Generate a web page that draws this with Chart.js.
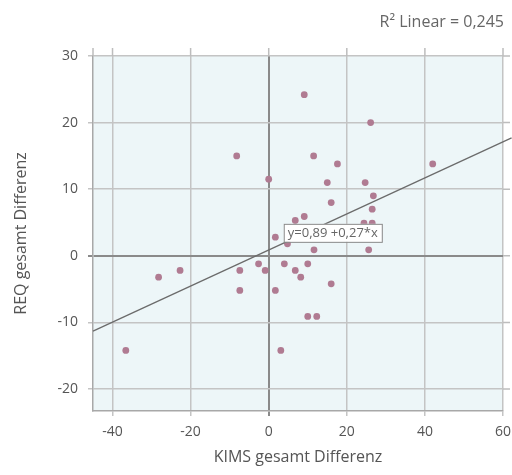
<!DOCTYPE html>
<html>
<head>
<meta charset="utf-8">
<script src="https://cdn.jsdelivr.net/npm/chart.js@4.4.0/dist/chart.umd.min.js"></script>
<style>
  html, body { margin: 0; padding: 0; background: #fff; }
</style>
</head>
<body>
<canvas id="myChart" width="512" height="475"></canvas>
<script>
// KIMS gesamt Differenz (x) / REQ gesamt Differenz (y)
var kimsDiff = [-36.6, -28.2, -22.7, -8.2, -7.4, -7.4, -2.6, -0.9, 0, 1.7, 1.7, 3.1,
                4.0, 4.8, 6.8, 6.8, 8.2, 9.1, 9.1, 10.0, 10.0, 11.5, 11.6, 12.3,
                15.0, 16.0, 16.0, 17.6, 24.4, 24.7, 25.6, 26.1, 26.5, 26.5, 26.8, 42.0];
var reqDiff = [-14.2, -3.2, -2.2, 15.0, -2.2, -5.2, -1.2, -2.2, 11.5, 2.8, -5.2, -14.2,
               -1.2, 1.8, 5.3, -2.2, -3.2, 24.2, 5.9, -1.2, -9.1, 15.0, 0.9, -9.1,
               11.0, 8.0, -4.2, 13.8, 4.9, 11.0, 0.9, 20.0, 7.0, 4.9, 9.0, 13.8];

// fit line end points (y=0,89 +0,27*x)
var fitX = [-45, 62.2];
var fitY = [-11.3, 17.7];

var xTicks = [-40, -20, 0, 20, 40, 60];
var yTicks = [-20, -10, 0, 10, 20, 30];

var fitLabel = 'y=0,89 +0,27*x';
var r2Label = 'R\u00B2 Linear = 0,245';

window.onload = function () {
    var points = kimsDiff.map(function (x, i) { return { x: x, y: reqDiff[i] }; });
    var fitPoints = fitX.map(function (x, i) { return { x: x, y: fitY[i] }; });

    var gridColor = function (c) { return c.tick && c.tick.value === 0 ? '#8a8a8a' : '#c4c4c4'; };
    var gridWidth = function (c) { return c.tick && c.tick.value === 0 ? 2 : 1.5; };

    // light blue plot area, outer tick stubs, labels
    var extras = {
        id: 'extras',
        beforeDraw: function (chart) {
            var a = chart.chartArea, ctx = chart.ctx;
            ctx.save();
            ctx.fillStyle = '#edf6f8';
            ctx.fillRect(a.left, a.top, a.right - a.left, a.bottom - a.top);
            ctx.restore();
        },
        afterDraw: function (chart) {
            var a = chart.chartArea, ctx = chart.ctx;
            var xs = chart.scales.x, ys = chart.scales.y;
            ctx.save();
            ctx.strokeStyle = '#bdbdbd';
            ctx.lineWidth = 1.5;
            ctx.beginPath();
            xTicks.forEach(function (v) {
                var px = xs.getPixelForValue(v);
                ctx.moveTo(px, a.top - 8);
                ctx.lineTo(px, a.top);
            });
            ctx.moveTo(a.left, a.top - 8);
            ctx.lineTo(a.left, a.top);
            yTicks.forEach(function (v) {
                var py = ys.getPixelForValue(v);
                ctx.moveTo(a.right, py);
                ctx.lineTo(a.right + 7, py);
            });
            ctx.stroke();

            // equation label on the fit line
            var bx = xs.getPixelForValue(3.85), by = ys.getPixelForValue(4.8);
            ctx.font = '13px "Liberation Sans Narrow", "Open Sans", sans-serif';
            var tw = ctx.measureText(fitLabel).width;
            ctx.fillStyle = '#ffffff';
            ctx.fillRect(bx, by, tw + 8, 18);
            ctx.strokeStyle = '#8a8a8a';
            ctx.lineWidth = 1;
            ctx.strokeRect(bx + 0.5, by + 0.5, tw + 8, 18);
            ctx.fillStyle = '#666';
            ctx.textBaseline = 'middle';
            ctx.fillText(fitLabel, bx + 4, by + 9.5);

            // R2 text top right
            ctx.font = '16px "Open Sans", sans-serif';
            ctx.textAlign = 'right';
            ctx.textBaseline = 'alphabetic';
            ctx.fillStyle = '#666';
            ctx.fillText(r2Label, 504, 27);
            ctx.restore();
        }
    };

    var ctx = document.getElementById('myChart').getContext('2d');
    var myChart = new Chart(ctx, {
        type: 'scatter',
        data: {
            datasets: [{
                label: 'Differenz',
                data: points,
                backgroundColor: '#b07b92',
                borderWidth: 0,
                pointRadius: 3.4,
                order: 2
            }, {
                type: 'line',
                label: 'Linear',
                data: fitPoints,
                borderColor: '#6b6b6b',
                borderWidth: 1.3,
                pointRadius: 0,
                fill: false,
                clip: false,
                order: 1
            }]
        },
        options: {
            responsive: false,
            animation: false,
            layout: { padding: { left: 0, top: 56, right: 9, bottom: 0 } },
            plugins: {
                legend: { display: false },
                tooltip: { enabled: false }
            },
            scales: {
                x: {
                    type: 'linear',
                    min: -45,
                    max: 60,
                    afterBuildTicks: function (s) { s.ticks = xTicks.map(function (v) { return { value: v }; }); },
                    afterFit: function (s) { s.height = 64; s.paddingLeft = 0; s.paddingRight = 0; },
                    grid: { color: gridColor, lineWidth: gridWidth, tickLength: 5 },
                    border: { color: '#a8a8a8', width: 1.5 },
                    ticks: { color: '#555', font: { family: 'Open Sans', size: 14 }, padding: 8, maxRotation: 0 },
                    title: {
                        display: true,
                        text: 'KIMS gesamt Differenz',
                        color: '#555',
                        font: { family: 'Open Sans', size: 16 },
                        padding: { top: 0, bottom: 8.4 }
                    }
                },
                y: {
                    type: 'linear',
                    min: -23.3,
                    max: 30,
                    afterBuildTicks: function (s) { s.ticks = yTicks.map(function (v) { return { value: v }; }); },
                    afterFit: function (s) { s.width = 93; s.paddingTop = 0; s.paddingBottom = 0; },
                    grid: { color: gridColor, lineWidth: gridWidth, tickLength: 5 },
                    border: { color: '#a8a8a8', width: 1.5 },
                    ticks: { color: '#555', font: { family: 'Open Sans', size: 14 }, padding: 10 },
                    title: {
                        display: true,
                        text: 'REQ gesamt Differenz',
                        color: '#555',
                        font: { family: 'Open Sans', size: 16 },
                        padding: { top: 11.4, bottom: 0 }
                    }
                }
            }
        },
        plugins: [extras]
    });
};
</script>
</body>
</html>
